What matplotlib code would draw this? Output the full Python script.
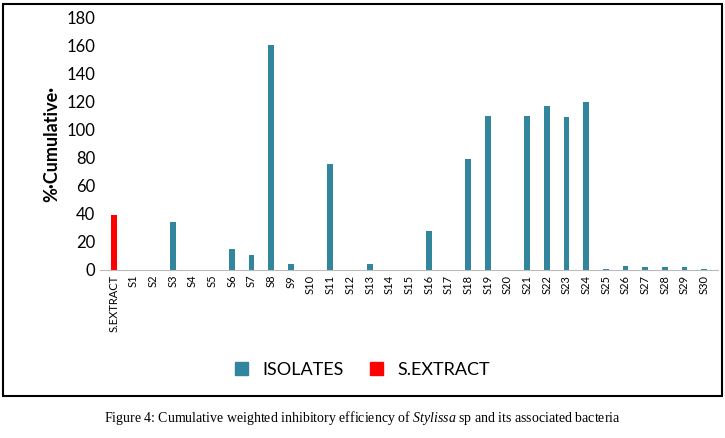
import matplotlib.pyplot as plt
from matplotlib.patches import Rectangle, Patch

plt.rcParams["mathtext.fontset"] = "custom"
plt.rcParams["mathtext.rm"] = "Liberation Serif"
plt.rcParams["mathtext.it"] = "Liberation Serif:italic"

labels = ["S.EXTRACT"] + [f"S{i}" for i in range(1, 31)]
values = [39, 0, 0, 34, 0, 0, 15, 11, 161, 4, 0, 76, 0, 4, 0, 0, 28, 0, 79, 110,
          0, 110, 117, 109, 120, 1, 3, 2, 2, 2, 1]
colors = ["#ff0000"] + ["#31859c"] * 30

fig = plt.figure(figsize=(7.25, 4.38), dpi=100)
ax = fig.add_axes([100 / 725, 1 - 270 / 438, 618 / 725, 252 / 438])
ax.bar(range(len(values)), values, width=0.3, color=colors)
ax.set_xlim(-0.7, len(values) - 0.3)
ax.set_ylim(0, 180)
ax.set_yticks(range(0, 181, 20))
ax.set_xticks(range(len(values)))
ax.set_xticklabels(labels, rotation=90, fontsize=8, family="Lato")
for t in ax.get_yticklabels():
    t.set_family("Lato")
    t.set_fontsize(12)
ax.tick_params(length=0)
for s in ["top", "right", "left"]:
    ax.spines[s].set_visible(False)
ax.spines["bottom"].set_color("#bbbbbb")
ax.set_ylabel("%·Cumulative·", fontsize=13, fontweight="bold", family="Lato")

handles = [Patch(color="#31859c", label="ISOLATES"), Patch(color="#ff0000", label="S.EXTRACT")]
fig.legend(handles=handles, loc="center", bbox_to_anchor=(0.5, 1 - 370 / 438), ncol=2,
           frameon=False, prop={"family": "Lato", "size": 13}, handlelength=0.7,
           handleheight=0.7, columnspacing=1.5)

fig.add_artist(Rectangle((3 / 725, 1 - 396 / 438), 719 / 725, 392 / 438,
                         transform=fig.transFigure, fill=False, edgecolor="black", lw=1.5))
fig.text(0.5, 1 - 418 / 438,
         "Figure 4: Cumulative weighted inhibitory efficiency of $\\it{Stylissa}$ sp and its associated bacteria",
         ha="center", va="center", fontsize=10, family="Liberation Serif")
fig.savefig("out.png", dpi=100)
